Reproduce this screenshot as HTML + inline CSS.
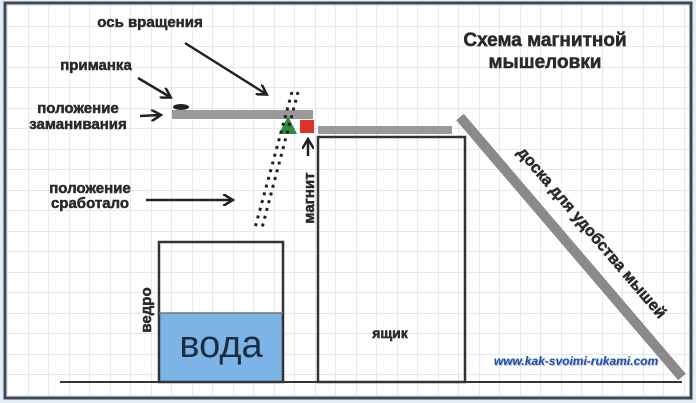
<!DOCTYPE html>
<html><head><meta charset="utf-8"><style>
html,body{margin:0;padding:0;background:#fff}
svg{display:block}
text{font-family:"Liberation Sans","DejaVu Sans",sans-serif;font-weight:bold;fill:#2a2a2a;stroke:#2a2a2a;stroke-width:0.5}
</style></head><body>
<svg width="696" height="403" viewBox="0 0 696 403" xmlns="http://www.w3.org/2000/svg">
<defs>
<pattern id="g" width="20.5" height="20.5" patternUnits="userSpaceOnUse" x="8" y="6">
<path d="M20.5 0V20.5M0 20.5H20.5" stroke="#c8d3dd" stroke-width="1" fill="none"/>
</pattern>
<marker id="a" markerWidth="12" markerHeight="12" refX="9" refY="6" orient="auto" markerUnits="userSpaceOnUse">
<path d="M0,0 L10,6 L0,12" fill="none" stroke="#222" stroke-width="2.5"/>
</marker>
</defs>
<rect x="0" y="0" width="696" height="403" fill="#e4ebf1"/>
<rect x="5" y="3" width="686" height="395" fill="#fff" stroke="#3b4a57" stroke-width="3"/>
<rect x="7" y="5" width="682" height="391" fill="url(#g)"/>
<line x1="60" y1="382" x2="682" y2="382" stroke="#333" stroke-width="2"/>
<rect x="159" y="313" width="124" height="69" fill="#7cb4e8"/>
<rect x="159" y="242" width="124" height="140" fill="none" stroke="#333" stroke-width="2.5"/>
<line x1="159" y1="313" x2="283" y2="313" stroke="#777" stroke-width="1.5"/>
<text x="221" y="357" text-anchor="middle" font-size="38" style="font-weight:normal;fill:#1e2d3d;stroke:none">вода</text>
<text transform="translate(151,310) rotate(-90)" text-anchor="middle" font-size="15">ведро</text>
<rect x="318" y="137" width="147" height="245" fill="none" stroke="#333" stroke-width="2.5"/>
<text x="390" y="338" text-anchor="middle" font-size="14">ящик</text>
<text transform="translate(314,198) rotate(-90)" text-anchor="middle" font-size="15">магнит</text>
<rect x="172" y="110" width="141" height="9" fill="#999"/>
<rect x="318" y="126" width="134" height="8" fill="#999"/>
<polygon points="288,116 279,134 297,134" fill="#2f8a3c"/>
<rect x="300" y="120" width="14" height="13" fill="#e0302a"/>
<line x1="308" y1="156" x2="308" y2="140" stroke="#222" stroke-width="2.5" marker-end="url(#a)"/>
<line x1="292" y1="92" x2="255" y2="228" stroke="#222" stroke-width="3" stroke-dasharray="3,5"/>
<line x1="298" y1="92" x2="262" y2="228" stroke="#222" stroke-width="3" stroke-dasharray="3,5"/>
<ellipse cx="181" cy="107" rx="8" ry="3" fill="#222"/>
<line x1="460" y1="117" x2="682" y2="377" stroke="#8a8a8a" stroke-width="10"/>
<text transform="translate(588,236) rotate(49.5)" text-anchor="middle" font-size="16">доска для удобства мышей</text>
<text x="150" y="27" text-anchor="middle" font-size="15">ось вращения</text>
<text x="96" y="70" text-anchor="middle" font-size="15">приманка</text>
<text x="78" y="113" text-anchor="middle" font-size="15">положение</text>
<text x="78" y="129" text-anchor="middle" font-size="15">заманивания</text>
<text x="90" y="193" text-anchor="middle" font-size="15">положение</text>
<text x="90" y="208" text-anchor="middle" font-size="15">сработало</text>
<line x1="185" y1="43" x2="266" y2="94" stroke="#222" stroke-width="2.5" marker-end="url(#a)"/>
<line x1="138" y1="78" x2="170" y2="97" stroke="#222" stroke-width="2.5" marker-end="url(#a)"/>
<line x1="140" y1="116" x2="160" y2="115" stroke="#222" stroke-width="2.5" marker-end="url(#a)"/>
<line x1="146" y1="200" x2="232" y2="200" stroke="#222" stroke-width="2.5" marker-end="url(#a)"/>
<text x="545" y="46" text-anchor="middle" font-size="19">Схема магнитной</text>
<text x="545" y="68" text-anchor="middle" font-size="19">мышеловки</text>
<text x="577" y="366" text-anchor="middle" font-size="12" style="font-style:italic;fill:#b8c4d4;stroke:none">www.kak-svoimi-rukami.com</text>
<text x="576" y="365" text-anchor="middle" font-size="12" style="font-style:italic;fill:#1f4ea0;stroke:none">www.kak-svoimi-rukami.com</text>
</svg>
</body></html>
